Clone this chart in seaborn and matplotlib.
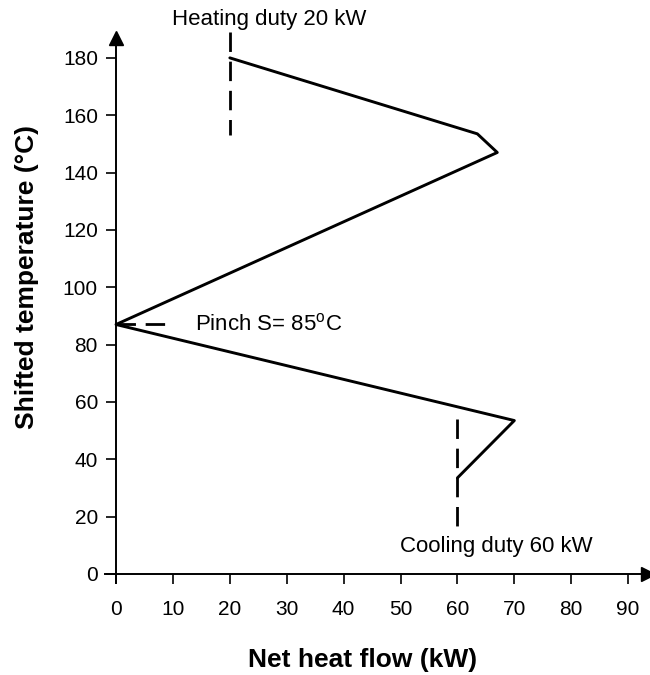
import matplotlib
matplotlib.use("Agg")
import matplotlib.pyplot as plt
import seaborn as sns
import pandas as pd

# Grand composite curve data (net heat flow kW, shifted temperature °C)
heat_flow = [20, 63.5, 67, 0, 70, 60]
temperature = [180, 153.5, 147, 87, 53.5, 33.5]

# Dashed guides
heating_x = [20, 20]
heating_y = [189, 153]
cooling_x = [60, 60]
cooling_y = [54, 13.5]
pinch_x = [0, 9]
pinch_y = [87, 87]

x_ticks = [0, 10, 20, 30, 40, 50, 60, 70, 80, 90]
y_ticks = [0, 20, 40, 60, 80, 100, 120, 140, 160, 180]

sns.set_style("white")
plt.rcParams['font.family'] = ['Liberation Sans', 'DejaVu Sans']
plt.rcParams['mathtext.fontset'] = 'custom'
plt.rcParams['mathtext.rm'] = 'Liberation Sans'
plt.rcParams['text.color'] = 'black'
plt.rcParams['axes.labelcolor'] = 'black'

fig = plt.figure(figsize=(6.5, 6.75), dpi=100)
ax = fig.add_axes([0.161, 0.137, 0.836, 0.807])

df = pd.DataFrame({"x": heat_flow, "y": temperature})
sns.lineplot(data=df, x="x", y="y", sort=False, estimator=None, color="black",
             linewidth=2.1, ax=ax)

dash = (7.0, 3.5)
for xs, ys in [(heating_x, heating_y), (cooling_x, cooling_y), (pinch_x, pinch_y)]:
    ax.plot(xs, ys, color="black", linewidth=2.0, dashes=dash, clip_on=False)

ax.set_xlim(-2, 93.5)
ax.set_ylim(-3, 187)
ax.spines['left'].set_position(('data', 0))
ax.spines['bottom'].set_position(('data', 0))
ax.spines['right'].set_visible(False)
ax.spines['top'].set_visible(False)
for s in ['left', 'bottom']:
    ax.spines[s].set_linewidth(1.4)
    ax.spines[s].set_color('black')

xmax = ax.get_xlim()[1]
ymax = ax.get_ylim()[1]
ax.plot(xmax, 0, marker=">", color="black", markersize=10, clip_on=False)
ax.plot(0, ymax, marker="^", color="black", markersize=10, clip_on=False)

ax.set_xticks(x_ticks)
ax.set_yticks(y_ticks)
ax.tick_params(axis='x', direction='out', length=7, width=1.2, pad=12,
               labelsize=15, bottom=True, colors='black')
ax.tick_params(axis='y', direction='out', length=7, width=1.2, pad=6,
               labelsize=15, left=True, colors='black')

ax.set_xlabel("Net heat flow (kW)", fontsize=19, fontweight='bold', va='center')
ax.set_ylabel("Shifted temperature (°C)", fontsize=19, fontweight='bold', va='center')
ax.xaxis.set_label_coords(0.558, 0.022, transform=fig.transFigure)
ax.yaxis.set_label_coords(0.042, 0.59, transform=fig.transFigure)

ax.text(27, 193.3, "Heating duty 20 kW", fontsize=16, ha='center', va='center',
        clip_on=False)
ax.text(13.9, 87, r"Pinch S= 85$^{\mathrm{o}}$C", fontsize=16, ha='left', va='center')
ax.text(66.8, 9.5, "Cooling duty 60 kW", fontsize=16, ha='center', va='center')

fig.savefig("out.png", dpi=100)
